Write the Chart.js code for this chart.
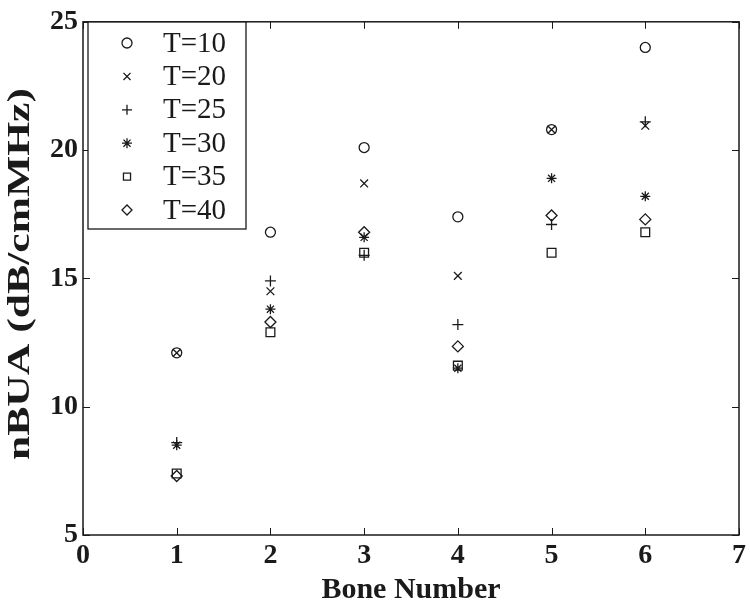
<!DOCTYPE html>
<html><head><meta charset="utf-8">
<script src="https://cdn.jsdelivr.net/npm/chart.js@4.4.0/dist/chart.umd.min.js"></script>
<style>html,body{margin:0;padding:0;background:#fff}#wrap{width:750px;height:608px}</style>
</head><body><div id="wrap"><canvas id="c" width="750" height="608"></canvas></div>
<script>
const boneNumbers = [1, 2, 3, 4, 5, 6];
const seriesLabels = ['T=10', 'T=20', 'T=25', 'T=30', 'T=35', 'T=40'];
const t10 = [12.1, 16.8, 20.1, 17.4, 20.8, 24.0];
const t20 = [12.1, 14.5, 18.7, 15.1, 20.8, 20.95];
const t25 = [8.6, 14.9, 15.9, 13.2, 17.1, 21.1];
const t30 = [8.5, 13.8, 16.6, 11.5, 18.9, 18.2];
const t35 = [7.4, 12.9, 16.0, 11.6, 16.0, 16.8];
const t40 = [7.3, 13.3, 16.8, 12.35, 17.45, 17.3];
const xTicks = [0, 1, 2, 3, 4, 5, 6, 7];
const yTicks = [5, 10, 15, 20, 25];
const xTitle = 'Bone Number';
const yTitle = 'nBUA (dB/cmMHz)';

const seriesValues = [t10, t20, t25, t30, t35, t40];
const styles = [
  {pointStyle: 'circle', radius: 5},
  {pointStyle: 'crossRot', radius: 5.5},
  {pointStyle: 'cross', radius: 5.5},
  {pointStyle: 'star', radius: 5},
  {pointStyle: 'rect', radius: 6.2},
  {pointStyle: 'rectRot', radius: 5.5}
];
const INK = '#1a1a1a';
const SERIF = '"Liberation Serif", "Times New Roman", serif';

const datasets = seriesValues.map((vals, i) => ({
  label: seriesLabels[i],
  data: boneNumbers.map((b, j) => ({x: b, y: vals[j]})),
  showLine: false,
  pointStyle: styles[i].pointStyle,
  pointRadius: styles[i].radius,
  pointHoverRadius: styles[i].radius,
  pointBorderWidth: 1.3,
  borderColor: INK,
  backgroundColor: 'rgba(0,0,0,0)'
}));

function drawMarker(ctx, style, radius, x, y) {
  const opts = {pointStyle: style, radius: radius, rotation: 0, borderWidth: 1.2};
  if (Chart.helpers && Chart.helpers.drawPoint) {
    Chart.helpers.drawPoint(ctx, opts, x, y);
  }
}

const boxPlugin = {
  id: 'matlabBox',
  afterDraw(chart) {
    const {ctx, chartArea: a, scales: {x, y}} = chart;
    ctx.save();
    ctx.strokeStyle = INK;
    ctx.lineWidth = 1.5;
    ctx.strokeRect(a.left, a.top, a.right - a.left, a.bottom - a.top);
    ctx.lineWidth = 1;
    const L = 7;
    const seg = (x1, y1, x2, y2) => { ctx.beginPath(); ctx.moveTo(x1, y1); ctx.lineTo(x2, y2); ctx.stroke(); };
    xTicks.forEach(v => {
      const px = Math.round(x.getPixelForValue(v)) + 0.5;
      seg(px, a.bottom, px, a.bottom - L);
      seg(px, a.top, px, a.top + L);
    });
    yTicks.forEach(v => {
      const py = Math.round(y.getPixelForValue(v)) + 0.5;
      seg(a.left, py, a.left + L, py);
      seg(a.right, py, a.right - L, py);
    });
    // y-axis title (stretched along its length like the reference)
    ctx.save();
    ctx.font = 'bold 31px ' + SERIF;
    const w = ctx.measureText(yTitle).width;
    const target = 372;
    ctx.translate(21, 274);
    ctx.rotate(-Math.PI / 2);
    ctx.scale(target / w, 1);
    ctx.fillStyle = INK;
    ctx.textAlign = 'center';
    ctx.textBaseline = 'middle';
    ctx.fillText(yTitle, 0, 0);
    ctx.restore();
    // legend
    const lx = 88, ly = 22, lw = 158, lh = 207;
    ctx.fillStyle = '#fff';
    ctx.fillRect(lx, ly, lw, lh);
    ctx.lineWidth = 1.3;
    ctx.strokeStyle = INK;
    ctx.strokeRect(lx, ly, lw, lh);
    ctx.font = '29px ' + SERIF;
    ctx.textBaseline = 'middle';
    ctx.textAlign = 'left';
    chart.data.datasets.forEach((ds, i) => {
      const cy = 43 + i * 33.4;
      ctx.strokeStyle = INK;
      ctx.fillStyle = 'rgba(0,0,0,0)';
      drawMarker(ctx, ds.pointStyle, Math.min(ds.pointRadius, 5), 127, cy);
      ctx.fillStyle = INK;
      ctx.fillText(ds.label, 163, cy + 1);
    });
    ctx.restore();
  }
};

new Chart(document.getElementById('c'), {
  type: 'scatter',
  data: {datasets},
  plugins: [boxPlugin],
  options: {
    responsive: false,
    animation: false,
    devicePixelRatio: 1,
    layout: {padding: {left: 0, top: 13, right: 10, bottom: 0}},
    plugins: {legend: {display: false}, tooltip: {enabled: false}},
    scales: {
      x: {
        type: 'linear', min: 0, max: 7,
        afterBuildTicks: s => { s.ticks = xTicks.map(v => ({value: v})); },
        afterFit: s => { s.height = 73; },
        grid: {display: false, drawTicks: false},
        border: {display: false},
        ticks: {color: INK, padding: 4, maxRotation: 0, font: {family: SERIF, weight: 'bold', size: 28}},
        title: {display: true, text: xTitle, color: INK, padding: 0, font: {family: SERIF, weight: 'bold', size: 30}}
      },
      y: {
        type: 'linear', min: 5, max: 25,
        afterBuildTicks: s => { s.ticks = yTicks.map(v => ({value: v})); },
        afterFit: s => { s.width = 83; },
        grid: {display: false, drawTicks: false},
        border: {display: false},
        ticks: {color: INK, padding: 5, font: {family: SERIF, weight: 'bold', size: 28}},
        title: {display: false}
      }
    }
  }
});
</script>
</body></html>
